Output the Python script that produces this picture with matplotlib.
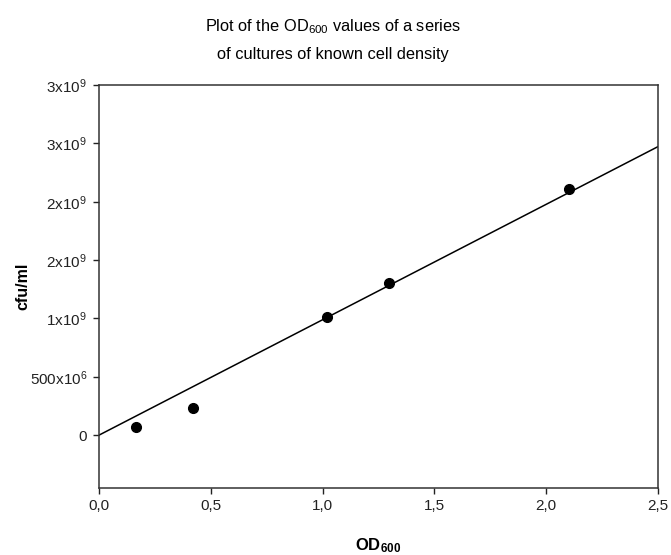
import numpy as np
import matplotlib
matplotlib.use("Agg")
import matplotlib.pyplot as plt

# Daten
od600 = [0.165, 0.419, 1.018, 1.296, 2.103]
cfu_ml = [0.066e9, 0.234e9, 1.009e9, 1.306e9, 2.107e9]

y_ticks = [0, 0.5e9, 1.0e9, 1.5e9, 2.0e9, 2.5e9, 3.0e9]
y_tick_labels = ["0", r"500x10$^6$", r"1x10$^9$", r"2x10$^9$", r"2x10$^9$", r"3x10$^9$", r"3x10$^9$"]
x_ticks = [0.0, 0.5, 1.0, 1.5, 2.0, 2.5]
x_tick_labels = ["0,0", "0,5", "1,0", "1,5", "2,0", "2,5"]

plt.rcParams['font.family'] = ['Liberation Sans', 'DejaVu Sans']
plt.rcParams['mathtext.fontset'] = 'custom'
plt.rcParams['mathtext.rm'] = 'Liberation Sans'
plt.rcParams['mathtext.it'] = 'Liberation Sans:italic'
plt.rcParams['mathtext.bf'] = 'Liberation Sans:bold'

fig = plt.figure(figsize=(6.71, 5.55), dpi=100)
ax = fig.add_axes([0.1475, 0.1213, 0.8331, 0.7255])

# Regressionsgerade durch den Ursprung
x = np.array(od600)
y = np.array(cfu_ml)
slope = np.sum(x * y) / np.sum(x * x)
x_line = np.array([0.0, 2.5])
ax.plot(x_line, slope * x_line, color='black', linewidth=1.1)

ax.plot(od600, cfu_ml, 'o', color='black', markersize=7)

ax.set_xlim(0, 2.5)
ax.set_ylim(-0.45e9, 3.0e9)
ax.set_xticks(x_ticks)
ax.set_xticklabels(x_tick_labels)
ax.set_yticks(y_ticks)
ax.set_yticklabels(y_tick_labels)
ax.tick_params(direction='out', length=4, width=1, labelsize=11, pad=4.5, colors='#222222')

for s in ax.spines.values():
    s.set_linewidth(1.1)
    s.set_color('#333333')

ax.set_xlabel(r"OD$_{\mathbf{600}}$", fontsize=12, fontweight='bold')
ax.xaxis.set_label_coords(0.5, -0.12)
ax.set_ylabel("cfu/ml", fontsize=11.5, fontweight='bold')
ax.yaxis.set_label_coords(-0.122, 0.5)

fig.text(333 / 671, 1 - 31 / 555, r"Plot of the OD$_{600}$ values of a series",
         ha='center', va='baseline', fontsize=11.8)
fig.text(333 / 671, 1 - 59.3 / 555, "of cultures of known cell density",
         ha='center', va='baseline', fontsize=11.8)

fig.savefig("out.png", dpi=100)
